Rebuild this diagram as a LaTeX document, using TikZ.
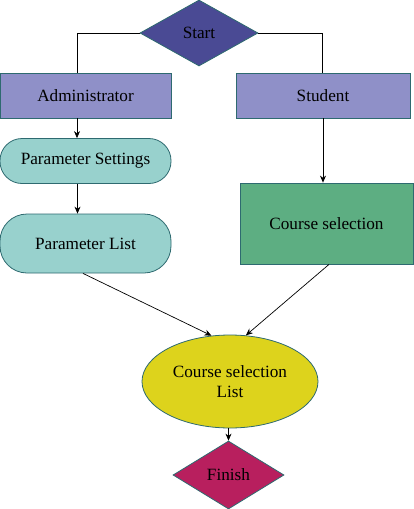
\documentclass[tikz,border=0pt]{standalone}
\usepackage{fontspec}
\setmainfont{Liberation Serif}
\usetikzlibrary{shapes.geometric,arrows.meta}
\definecolor{bordc}{HTML}{2E6A70}
\definecolor{startc}{HTML}{4A4A94}
\definecolor{rolec}{HTML}{8F90C8}
\definecolor{paramc}{HTML}{98D1CD}
\definecolor{coursec}{HTML}{5DAE82}
\definecolor{listc}{HTML}{DDD31C}
\definecolor{finishc}{HTML}{B81F5E}
\tikzset{
  base/.style={draw=bordc, line width=0.8pt, font=\fontsize{17.2}{20}\selectfont, text=black, inner sep=1pt, align=center},
  dia/.style={base, diamond, aspect=1.8},
  rolebox/.style={base, rectangle, fill=rolec, minimum width=171pt, minimum height=45pt},
  stadium/.style={base, rectangle, fill=paramc, minimum width=171pt},
  conn/.style={draw=black, line width=0.7pt},
  arr/.style={conn, -{Stealth[length=7pt,width=6pt]}}
}
\begin{document}
\begin{tikzpicture}[x=1pt,y=1pt]
\useasboundingbox (0,0) rectangle (414,-509);
\node[dia, fill=startc, minimum width=118pt, minimum height=66pt] (start) at (199,-33) {Start};
\node[rolebox] (admin) at (85.5,-95.5) {Administrator};
\node[rolebox, minimum width=174pt] (student) at (323,-95.5) {Student};
\node[stadium, minimum height=45pt, rounded corners=22pt] (pset) at (85.5,-161) {Parameter Settings};
\node[stadium, minimum height=59pt, rounded corners=27pt] (plist) at (85.5,-243.5) {Parameter List};
\node[base, rectangle, fill=coursec, minimum width=173pt, minimum height=81pt] (course) at (326.5,-223.5) {Course selection};
\node[base, ellipse, fill=listc, minimum width=176pt, minimum height=93pt] (clist) at (230,-381.5) {Course selection\\List};
\node[dia, fill=finishc, minimum width=111pt, minimum height=68pt] (finish) at (228.5,-475) {Finish};
\draw[conn] (start.west) -| ([xshift=-8.5pt]admin.north);
\draw[conn] (start.east) -| ([xshift=-1pt]student.north);
\draw[arr] ([xshift=-8.5pt]admin.south) -- ([xshift=-8.5pt]pset.north);
\draw[arr] ([xshift=-8pt]pset.south) -- ([xshift=-8pt]plist.north);
\draw[arr] (student.south) -- (student.south |- course.north);
\draw[arr] ([xshift=-2.5pt]plist.south) -- (clist.112.8);
\draw[arr] ([xshift=2.5pt]course.south) -- (clist.71.4);
\draw[arr] (finish.north |- clist.south) -- (finish.north);
\end{tikzpicture}
\end{document}
